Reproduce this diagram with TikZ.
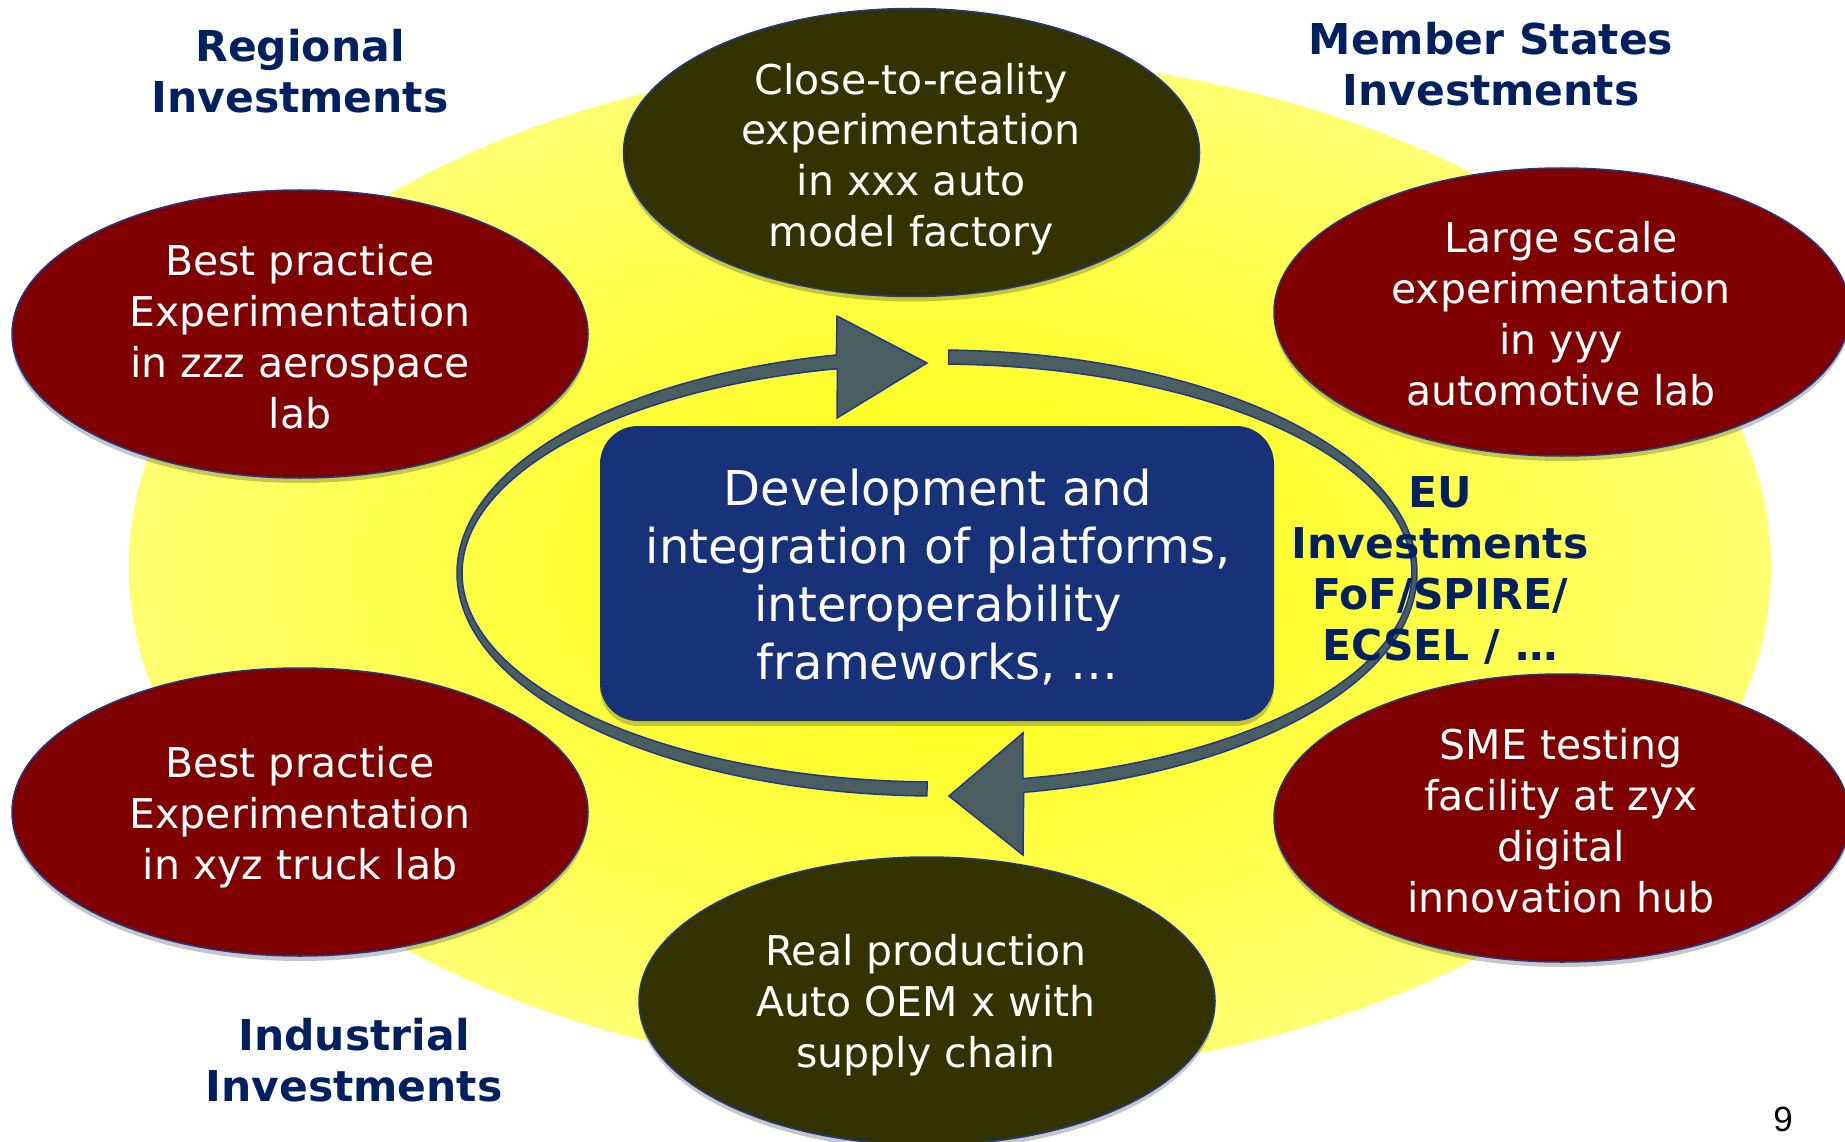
\documentclass[tikz,border=0pt]{standalone}
\usepackage{fontspec}
\setmainfont{DejaVu Sans}
\newfontfamily\pagenumfont{Liberation Sans}
\usetikzlibrary{shapes.geometric,shadows}
\definecolor{yin}{RGB}{255,255,40}
\definecolor{yout}{RGB}{255,255,218}
\definecolor{maroonfill}{RGB}{128,0,0}
\definecolor{olivefill}{RGB}{51,51,0}
\definecolor{edgenavy}{RGB}{32,56,140}
\definecolor{boxblue}{RGB}{23,50,120}
\definecolor{headnavy}{RGB}{0,32,96}
\definecolor{arrowslate}{RGB}{74,94,98}
\pgfdeclareradialshading{yelshade}{\pgfpoint{0bp}{0bp}}{color(0bp)=(yin); color(8bp)=(yin); color(50bp)=(yout)}
\begin{document}
\begin{tikzpicture}[x=1pt,y=-1pt,
  blob/.style={ellipse, minimum width=576pt, minimum height=288pt, inner sep=0pt, outer sep=0pt,
    draw=edgenavy, line width=1.5pt,
    drop shadow={shadow xshift=0pt, shadow yshift=-5pt, opacity=0.22, fill=black}},
  redblob/.style={blob, fill=maroonfill},
  oliveblob/.style={blob, fill=olivefill},
  blobtext/.style={text=white, align=center, inner sep=0pt, font=\fontsize{41}{51}\selectfont},
  heading/.style={text=headnavy, align=center, inner sep=0pt, font=\fontsize{42.5}{51}\selectfont\bfseries},
  corebox/.style={rectangle, rounded corners=38pt, fill=boxblue, minimum width=674pt, minimum height=295pt,
    inner sep=0pt, drop shadow={shadow xshift=0pt, shadow yshift=-5pt, opacity=0.22, fill=black}},
  coretext/.style={text=white, align=center, inner sep=0pt, font=\fontsize{48}{57.7}\selectfont},
  ringarrow/.style={fill=arrowslate, draw=edgenavy, line width=1.5pt, line join=miter},
]
\useasboundingbox (0,0) rectangle (1845,1142);
\fill[white] (0,0) rectangle (1845,1142);
% yellow background
\shade[shading=yelshade] (950,567) ellipse [x radius=821, y radius=510];

% cycle arrows
\filldraw[ringarrow]
  plot[domain=91.2:257.9, samples=120, variable=\t] ({937+480*cos(\t)},{573+223*sin(\t)})
  -- (837,316) -- (927,363) -- (837,418)
  -- plot[domain=257.9:91.2, samples=120, variable=\t] ({937+475*cos(\t)},{573+209*sin(\t)})
  -- cycle;
\filldraw[ringarrow]
  plot[domain=271.4:439.6, samples=120, variable=\t] ({937+480*cos(\t)},{573+223*sin(\t)})
  -- (1023,855) -- (949,796) -- (1023,733)
  -- plot[domain=439.6:271.4, samples=120, variable=\t] ({937+475*cos(\t)},{573+209*sin(\t)})
  -- cycle;

% ellipses
\node[oliveblob] (top) at (911.5,152.5) {};
\node[oliveblob] (bottom) at (927,1001) {};
\node[redblob] (tl) at (300,334) {};
\node[redblob] (bl) at (300,812) {};
\node[redblob] (tr) at (1562,312) {};
\node[redblob] (br) at (1562,818) {};

\node[blobtext] (toptxt) at (911,160.3) {\strut Close-to-reality\\experimentation\\in xxx auto\\model factory\strut};
\node[blobtext] (bottomtxt) at (926,1005.8) {\strut Real production\\Auto OEM x with\\supply chain\strut};
\node[blobtext] (tltxt) at (300,341.3) {\strut Best practice\\Experimentation\\in zzz aerospace\\lab\strut};
\node[blobtext] (bltxt) at (300,817.8) {\strut Best practice\\Experimentation\\in xyz truck lab\strut};
\node[blobtext] (trtxt) at (1561,318.3) {\strut Large scale\\experimentation\\in yyy\\automotive lab\strut};
\node[blobtext] (brtxt) at (1561,825.3) {\strut SME testing\\facility at zyx\\digital\\innovation hub\strut};

% central box
\node[corebox] (core) at (937,573.5) {};
\node[coretext] (coretxt) at (938,581) {\strut Development and\\integration of platforms,\\interoperability\\frameworks, …\strut};

% headings
\node[heading] (regional) at (300,77.3) {\strut Regional\\Investments\strut};
\node[heading] (member) at (1491,70.3) {\strut Member States\\Investments\strut};
\node[heading] (industrial) at (354,1065.3) {\strut Industrial\\Investments\strut};
\node[heading] (eu) at (1440,573.9) {\strut EU\\Investments\\FoF/SPIRE/\\ECSEL / …\strut};

\node[anchor=base, inner sep=0pt, font=\pagenumfont\fontsize{35}{40}\selectfont] (pagenum) at (1783,1131) {9};
\end{tikzpicture}
\end{document}
